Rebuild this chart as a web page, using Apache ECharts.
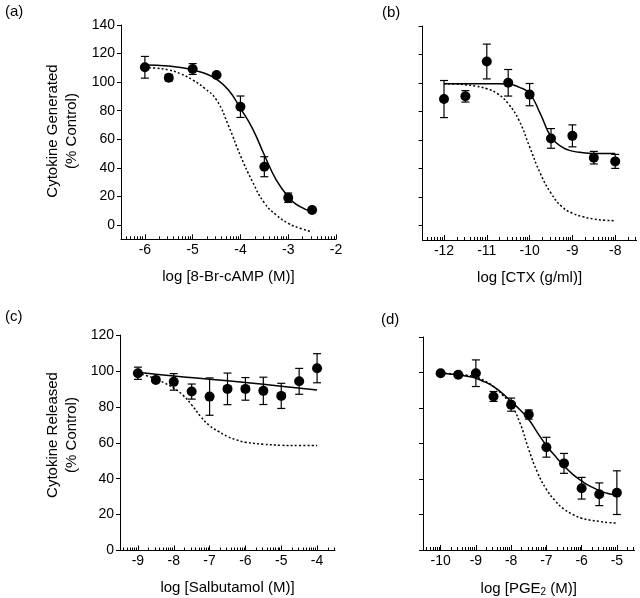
<!DOCTYPE html>
<html><head><meta charset="utf-8">
<script src="https://cdn.jsdelivr.net/npm/echarts@6/dist/echarts.min.js"></script>
<style>html,body{margin:0;padding:0;background:#fff}#c{width:640px;height:598px}</style>
</head><body><div id="c"></div>
<script>
// ---------- Panel (a): 8-Br-cAMP ----------
const aX = [-6, -5.5, -5, -4.5, -4, -3.5, -3, -2.5];
const aY = [110.4, 103.1, 109.2, 105.0, 82.8, 40.8, 19.1, 10.5];
const aErr = [7.6, 2.3, 3.8, 0, 7.5, 7.0, 3.3, 0];
const aCurveX = [-6, -5.75, -5.5, -5.25, -5, -4.75, -4.5, -4.25, -4, -3.75, -3.5, -3.25, -3, -2.75, -2.5];
const aSolid = [112, 111.8, 111.3, 110.2, 108.5, 106.2, 102, 94.5, 81.7, 67.7, 49, 31.5, 19.8, 12.8, 9.3];
const aDashed = [110.4, 109.7, 108.5, 105.8, 101.5, 95.7, 87.5, 69.5, 48.5, 30.5, 15.5, 7, 1.2, -2.3, -4.7];

// ---------- Panel (b): CTX ----------
const bX = [-12, -11.5, -11, -10.5, -10, -9.5, -9, -8.5, -8];
const bY = [88.8, 90.7, 115.1, 100.2, 91.9, 61.2, 63.0, 47.7, 45.1];
const bErr = [13, 4, 12.2, 9.3, 7.8, 6.9, 7.7, 4.4, 4.9];
const bCurveX = [-12, -11.75, -11.5, -11.25, -11, -10.75, -10.5, -10.25, -10, -9.75, -9.5, -9.25, -9, -8.75, -8.5, -8.25, -8];
const bSolid = [99.5, 99.5, 99.5, 99.5, 99.5, 99.5, 99.3, 97.2, 92.6, 78.6, 62.3, 55.3, 52.3, 51.2, 50.7, 50.6, 50.6];
const bDashed = [99.5, 99.3, 98.8, 97.8, 96, 92.6, 85.6, 74, 55.3, 36.7, 22.8, 13.5, 8.8, 6.3, 4.7, 3.9, 3.5];

// ---------- Panel (c): Salbutamol ----------
const cX = [-9, -8.5, -8, -7.5, -7, -6.5, -6, -5.5, -5, -4.5, -4];
const cY = [98.7, 95.0, 93.9, 88.5, 85.7, 90.0, 90.0, 88.9, 86.1, 94.2, 101.5];
const cErr = [3.4, 0, 4.6, 4.2, 10.4, 8.8, 6.3, 7.6, 7.0, 7.2, 8.1];
const cSolidX = [-9, -8, -7, -6, -5, -4];
const cSolid = [99.3, 97.2, 95.4, 93.5, 91.5, 89.4];
const cDashedX = [-9, -8.75, -8.5, -8.25, -8, -7.75, -7.5, -7.25, -7, -6.75, -6.5, -6.25, -6, -5.5, -5, -4.5, -4];
const cDashed = [98.7, 97.3, 95.4, 93.2, 90.4, 86.6, 81.1, 74.6, 69.5, 66.3, 63.5, 61.6, 60.3, 59.2, 58.6, 58.4, 58.4];

// ---------- Panel (d): PGE2 ----------
const dX = [-10, -9.5, -9, -8.5, -8, -7.5, -7, -6.5, -6, -5.5, -5];
const dY = [99.6, 98.7, 99.6, 86.5, 81.9, 76.3, 57.9, 48.8, 34.8, 31.4, 32.3];
const dErr = [0, 0, 7.5, 2.8, 3.7, 2.6, 5.6, 5.6, 6.1, 6.4, 12.3];
const dCurveX = [-10, -9.75, -9.5, -9.25, -9, -8.75, -8.5, -8.25, -8, -7.75, -7.5, -7.25, -7, -6.75, -6.5, -6.25, -6, -5.75, -5.5, -5.25, -5];
const dSolid = [99.6, 99.2, 98.7, 97.9, 96.8, 94.7, 92.1, 88.3, 83.7, 79, 73.5, 66, 58.9, 52.9, 47.3, 42.6, 38.9, 35.8, 33.6, 31.8, 30.8];
const dDashed = [99.6, 99.4, 99.1, 98.4, 97.4, 95.3, 92.1, 87.5, 81.9, 71.6, 56.6, 43.6, 34.2, 27.7, 23, 20, 17.9, 16.8, 16.1, 15.5, 15.1];

// ---------- Axis ticks / labels ----------
const yTicksTop = [0, 20, 40, 60, 80, 100, 120, 140];
const yTicksBottom = [0, 20, 40, 60, 80, 100, 120];
const aXTicks = [-6, -5, -4, -3, -2];
const bXTicks = [-12, -11, -10, -9, -8];
const cXTicks = [-9, -8, -7, -6, -5, -4];
const dXTicks = [-10, -9, -8, -7, -6, -5];

const FONT = 'Liberation Sans, Arial, Helvetica, sans-serif';

function logMinor(min, max) {
  const out = [];
  for (let n = Math.floor(min) - 1; n <= Math.ceil(max); n++) {
    for (let k = 2; k <= 9; k++) {
      const v = n + Math.log10(k);
      if (v > min + 0.001 && v < max - 0.001) out.push(+v.toFixed(4));
    }
  }
  return out;
}

const panels = [
  { grid: { left: 121, top: 25, width: 215, height: 214.3 }, xr: [-6.5, -2], yr: [-10, 140], yTicks: yTicksTop, yLabels: true,
    xTicks: aXTicks, xName: 'log [8-Br-cAMP (M)]',
    pts: [aX, aY, aErr], curves: [[aCurveX, aSolid, 'solid'], [aCurveX, aDashed, 'dashed']] },
  { grid: { left: 422.6, top: 26, width: 214, height: 214 }, xr: [-12.5, -7.5], yr: [-10, 140], yTicks: yTicksTop, yLabels: false,
    xTicks: bXTicks, xName: 'log [CTX (g/ml)]',
    pts: [bX, bY, bErr], curves: [[bCurveX, bSolid, 'solid'], [bCurveX, bDashed, 'dashed']] },
  { grid: { left: 120, top: 335, width: 215, height: 215.5 }, xr: [-9.5, -3.5], yr: [0, 120], yTicks: yTicksBottom, yLabels: true,
    xTicks: cXTicks, xName: 'log [Salbutamol (M)]',
    pts: [cX, cY, cErr], curves: [[cSolidX, cSolid, 'solid'], [cDashedX, cDashed, 'dashed']] },
  { grid: { left: 423, top: 337, width: 211.5, height: 214 }, xr: [-10.5, -4.5], yr: [0, 120], yTicks: yTicksBottom, yLabels: false,
    xTicks: dXTicks, xName: 'log [PGE{sub|2} (M)]',
    pts: [dX, dY, dErr], curves: [[dCurveX, dSolid, 'solid'], [dCurveX, dDashed, 'dashed']] }
];

const grid = [], xAxis = [], yAxis = [], series = [];
panels.forEach((p, i) => {
  grid.push(Object.assign({ containLabel: false }, p.grid));
  // main x axis
  xAxis.push({
    type: 'value', gridIndex: i, min: p.xr[0], max: p.xr[1], position: 'bottom',
    axisLine: { show: true, onZero: false, lineStyle: { color: '#000', width: 1 } },
    axisTick: { show: true, inside: true, length: 5, customValues: p.xTicks, lineStyle: { color: '#000' } },
    axisLabel: { show: true, customValues: p.xTicks, margin: 4, color: '#000', fontSize: 14, fontFamily: FONT,
      formatter: v => String(v) },
    splitLine: { show: false },
    name: p.xName, nameLocation: 'middle', nameGap: 30,
    nameTextStyle: { color: '#000', fontSize: 15, fontFamily: FONT,
      rich: { sub: { fontSize: 10, fontFamily: FONT, color: '#000', verticalAlign: 'bottom', padding: [7, 0, 0, 0] } } }
  });
  // minor log ticks
  xAxis.push({
    type: 'value', gridIndex: i, min: p.xr[0], max: p.xr[1], position: 'bottom',
    axisLine: { show: false, onZero: false },
    axisTick: { show: true, inside: true, length: 3, customValues: logMinor(p.xr[0], p.xr[1]), lineStyle: { color: '#000' } },
    axisLabel: { show: false }, splitLine: { show: false }
  });
  yAxis.push({
    type: 'value', gridIndex: i, min: p.yr[0], max: p.yr[1],
    axisLine: { show: true, onZero: false, lineStyle: { color: '#000', width: 1 } },
    axisTick: { show: true, inside: false, length: 4, customValues: p.yTicks, lineStyle: { color: '#000' } },
    axisLabel: { show: p.yLabels, customValues: p.yTicks, margin: 6, color: '#000', fontSize: 14, fontFamily: FONT },
    splitLine: { show: false }
  });
  const xi = i * 2, yi = i;
  p.curves.forEach(c => {
    series.push({
      type: 'line', xAxisIndex: xi, yAxisIndex: yi, showSymbol: false, symbol: 'none', smooth: 0.5,
      silent: true, clip: false,
      lineStyle: { color: '#000', width: 1.5, type: c[2] === 'solid' ? 'solid' : [2, 2.2] },
      data: c[0].map((x, k) => [x, c[1][k]])
    });
  });
  const [px, py, pe] = p.pts;
  series.push({
    type: 'custom', xAxisIndex: xi, yAxisIndex: yi, silent: true,
    data: px.map((x, k) => [x, py[k], pe[k]]).filter(d => d[2] > 0),
    renderItem: (params, api) => {
      const x = api.value(0), y = api.value(1), e = api.value(2);
      const t = api.coord([x, y + e]), b = api.coord([x, y - e]);
      const w = 4;
      const st = { stroke: '#000', lineWidth: 1.2 };
      return { type: 'group', children: [
        { type: 'line', shape: { x1: t[0], y1: t[1], x2: b[0], y2: b[1] }, style: st },
        { type: 'line', shape: { x1: t[0] - w, y1: t[1], x2: t[0] + w, y2: t[1] }, style: st },
        { type: 'line', shape: { x1: b[0] - w, y1: b[1], x2: b[0] + w, y2: b[1] }, style: st }
      ] };
    }
  });
  series.push({
    type: 'scatter', xAxisIndex: xi, yAxisIndex: yi, symbol: 'circle', symbolSize: 10, silent: true,
    itemStyle: { color: '#000', opacity: 1 },
    data: px.map((x, k) => [x, py[k]])
  });
});

const txt = (text, x, y, extra) => ({
  type: 'text', x, y,
  style: Object.assign({ text, fill: '#000', fontSize: 15, fontFamily: FONT, textAlign: 'left', textVerticalAlign: 'middle' }, extra || {})
});

const graphic = [
  txt('(a)', 5, 12),
  txt('(b)', 382, 13),
  txt('(c)', 5, 317),
  txt('(d)', 381, 320),
  Object.assign(txt('Cytokine Generated\n(% Control)', 62.5, 131, { textAlign: 'center', lineHeight: 19 }), { rotation: Math.PI / 2 }),
  Object.assign(txt('Cytokine Released\n(% Control)', 62.5, 435, { textAlign: 'center', lineHeight: 19 }), { rotation: Math.PI / 2 })
];

const chart = echarts.init(document.getElementById('c'), null, { renderer: 'canvas' });
chart.setOption({ animation: false, backgroundColor: '#fff', grid, xAxis, yAxis, series, graphic });
</script></body></html>
